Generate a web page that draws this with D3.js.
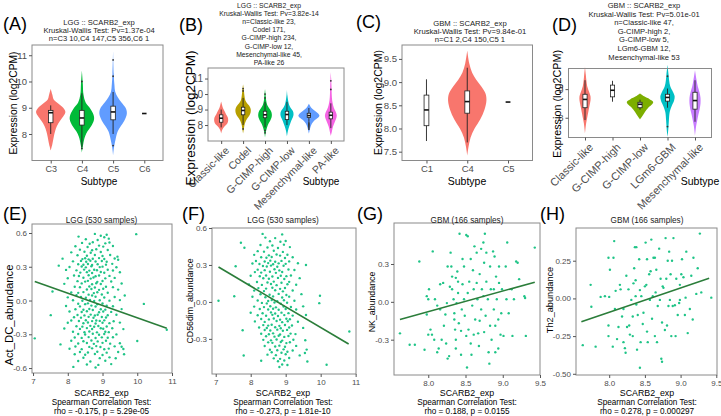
<!DOCTYPE html>
<meta charset="utf-8">
<script src="https://d3js.org/d3.v7.min.js"></script>
<style>
  body { margin: 0; background: #fff; }
  text { font-family: "Liberation Sans", Arial, sans-serif; }
</style>
<div id="chart"></div>
<script>

// ---------------- data: violin panels ----------------
// violin profiles: [value, half width as share of category step]
// boxes: [lower whisker, q1, median, q3, upper whisker]

var aTitle = ["LGG :: SCARB2_exp", "Kruskal-Wallis Test: Pv=1.37e-04", "n=C3 10,C4 147,C5 356,C6 1"];
var aCats = ["C3", "C4", "C5", "C6"];
var aTicks = [8, 9, 10, 11];
var aColors = ["#F8766D", "#00BA38", "#619CFF", null];
var aViolins = [
  [[7.37,0],[7.6,0.05],[7.9,0.1],[8.1,0.14],[8.3,0.2],[8.5,0.3],[8.7,0.42],[8.85,0.47],[9.0,0.4],[9.15,0.25],[9.3,0.1],[9.5,0.05],[9.72,0]],
  [[7.3,0],[7.6,0.04],[7.9,0.1],[8.1,0.18],[8.3,0.3],[8.5,0.38],[8.65,0.39],[8.8,0.35],[9.0,0.25],[9.2,0.12],[9.5,0.05],[9.9,0.03],[10.42,0]],
  [[7.18,0],[7.5,0.03],[7.8,0.08],[8.1,0.15],[8.3,0.25],[8.5,0.36],[8.7,0.43],[8.85,0.44],[9.0,0.4],[9.2,0.27],[9.4,0.15],[9.6,0.07],[9.9,0.04],[10.3,0.02],[11.16,0]],
  null
];
var aBoxes = [[8.0,8.43,8.81,8.9,9.09],[7.5,8.34,8.61,8.9,9.55],[8.0,8.54,8.84,9.06,9.6],[8.78,8.78,8.78,8.78,8.78]];
var aOutliers = [[], [10.0, 7.45], [10.82, 10.2, 7.56], []];

var bTitle = ["LGG :: SCARB2_exp", "Kruskal-Wallis Test: Pv=3.82e-14", "n=Classic-like 23,", "Codel 171,", "G-CIMP-high 234,", "G-CIMP-low 12,", "Mesenchymal-like 45,", "PA-like 26"];
var bCats = ["Classic-like", "Codel", "G-CIMP-high", "G-CIMP-low", "Mesenchymal-like", "PA-like"];
var bTicks = [8, 9, 10, 11];
var bColors = ["#F8766D", "#B79F00", "#00BA38", "#00BFC4", "#619CFF", "#F564E3"];
var bViolins = [
  [[7.46,0],[7.7,0.05],[7.9,0.15],[8.1,0.28],[8.3,0.32],[8.5,0.3],[8.7,0.22],[8.9,0.15],[9.1,0.08],[9.3,0.04],[9.52,0]],
  [[7.46,0],[7.8,0.04],[8.1,0.08],[8.4,0.18],[8.6,0.28],[8.8,0.34],[9.0,0.35],[9.2,0.3],[9.4,0.18],[9.6,0.1],[9.9,0.06],[10.2,0.04],[10.63,0]],
  [[7.2,0],[7.5,0.03],[7.8,0.08],[8.1,0.16],[8.3,0.24],[8.5,0.3],[8.7,0.31],[8.9,0.27],[9.1,0.18],[9.3,0.1],[9.6,0.05],[9.9,0.03],[10.32,0]],
  [[7.27,0],[7.6,0.04],[7.9,0.1],[8.1,0.15],[8.3,0.2],[8.5,0.27],[8.7,0.3],[8.9,0.27],[9.1,0.17],[9.3,0.1],[9.6,0.05],[9.9,0.02],[10.26,0]],
  [[7.45,0],[7.7,0.04],[7.9,0.08],[8.1,0.14],[8.3,0.25],[8.45,0.4],[8.6,0.48],[8.75,0.42],[8.9,0.28],[9.1,0.12],[9.25,0.05],[9.37,0]],
  [[7.3,0],[7.6,0.05],[7.9,0.1],[8.2,0.18],[8.4,0.24],[8.6,0.27],[8.8,0.24],[9.0,0.17],[9.3,0.1],[9.6,0.06],[10.0,0.04],[10.5,0.03],[11.0,0.015],[11.43,0]]
];
var bBoxes = [[7.85,8.18,8.44,8.66,9.0],[8.0,8.66,8.94,9.15,9.75],[7.85,8.47,8.66,8.89,9.5],[8.0,8.35,8.68,8.89,9.5],[8.2,8.48,8.61,8.76,9.1],[7.8,8.4,8.63,8.83,9.4]];
var bOutliers = [[], [10.2, 10.35, 7.75], [10.0, 9.75, 7.65, 7.5], [], [8.13, 8.05, 7.98, 7.9, 7.82, 7.74], [10.85, 10.3]];

var cTitle = ["GBM :: SCARB2_exp", "Kruskal-Wallis Test: Pv=9.84e-01", "n=C1 2,C4 150,C5 1"];
var cCats = ["C1", "C4", "C5"];
var cTicks = [7.5, 8.0, 8.5, 9.0, 9.5];
var cColors = [null, "#F8766D", null];
var cViolins = [
  null,
  [[7.41,0],[7.6,0.03],[7.8,0.08],[8.0,0.18],[8.2,0.32],[8.4,0.42],[8.6,0.47],[8.75,0.45],[8.9,0.35],[9.05,0.22],[9.2,0.12],[9.4,0.05],[9.68,0]],
  null
];
var cBoxes = [[7.73,8.06,8.4,8.72,9.06],[7.7,8.33,8.58,8.81,9.31],[8.57,8.57,8.57,8.57,8.57]];
var cOutliers = [[], [], []];

var dTitle = ["GBM :: SCARB2_exp", "Kruskal-Wallis Test: Pv=5.01e-01", "n=Classic-like 47,", "G-CIMP-high 2,", "G-CIMP-low 5,", "LGm6-GBM 12,", "Mesenchymal-like 53"];
var dCats = ["Classic-like", "G-CIMP-high", "G-CIMP-low", "LGm6-GBM", "Mesenchymal-like"];
var dTicks = [8, 9];
var dColors = ["#F8766D", null, "#7CAE00", "#00BFC4", "#C77CFF"];
var dViolins = [
  [[7.46,0],[7.8,0.04],[8.0,0.08],[8.2,0.12],[8.4,0.16],[8.6,0.2],[8.75,0.2],[8.9,0.15],[9.1,0.08],[9.3,0.05],[9.5,0.03],[9.78,0]],
  null,
  [[7.94,0],[8.05,0.08],[8.2,0.18],[8.35,0.3],[8.45,0.42],[8.55,0.48],[8.65,0.35],[8.75,0.15],[8.85,0]],
  [[7.34,0],[7.6,0.03],[7.9,0.05],[8.2,0.08],[8.4,0.15],[8.6,0.24],[8.75,0.26],[8.9,0.2],[9.1,0.1],[9.3,0.06],[9.5,0.04],[9.84,0]],
  [[7.37,0],[7.7,0.04],[7.9,0.08],[8.1,0.12],[8.3,0.17],[8.5,0.2],[8.7,0.2],[8.9,0.16],[9.1,0.1],[9.3,0.06],[9.66,0]]
];
var dBoxes = [[7.92,8.35,8.64,8.82,9.31],[8.56,8.73,8.96,9.14,9.29],[8.28,8.35,8.47,8.54,8.63],[8.35,8.58,8.71,8.82,9.02],[7.86,8.3,8.6,8.89,9.31]];
var dOutliers = [[], [], [], [9.45, 7.69], []];

// ---------------- data: scatter panels ----------------
var eTitle = "LGG (530 samples)";
var eStats = ["Spearman Correlation Test:", "rho = -0.175, p = 5.29e-05"];
var eFit = [[7.05, 0.17], [10.85, -0.247]];
var ePoints = [
[8.78,0.592],[9.12,0.585],[9.97,0.59],[8.31,0.568],[8.95,0.575],[9.05,0.562],[8.52,0.545],[8.86,0.538],[9.18,0.55],
[8.41,0.512],[8.63,0.505],[8.72,0.518],[9.08,0.508],[9.2,0.515],[8.22,0.482],[8.57,0.476],[8.9,0.488],[9.02,0.479],[9.3,0.485],
[8.35,0.452],[8.7,0.447],[8.82,0.455],[9.15,0.449],[8.1,0.428],[8.48,0.434],[8.66,0.425],[8.95,0.431],[9.43,0.39],
[8.28,0.402],[8.55,0.398],[8.78,0.405],[9.0,0.396],[9.22,0.404],
[7.85,0.372],[8.42,0.368],[8.5,0.375],[8.6,0.366],[8.72,0.371],[8.9,0.377],[9.05,0.369],[9.35,0.374],[9.45,0.362],
[8.15,0.348],[8.38,0.352],[8.53,0.345],[8.65,0.353],[8.8,0.347],[8.98,0.351],[9.12,0.344],
[7.74,0.31],[8.3,0.322],[8.45,0.318],[8.58,0.325],[8.7,0.316],[8.86,0.323],[9.1,0.319],[9.28,0.326],
[8.05,0.298],[8.4,0.302],[8.52,0.295],[8.68,0.304],[8.92,0.297],[9.0,0.301],[9.4,0.296],
[7.95,0.272],[8.25,0.268],[8.47,0.275],[8.62,0.266],[8.76,0.273],[8.84,0.269],[9.15,0.274],[9.3,0.267],
[8.36,0.248],[8.55,0.252],[8.7,0.245],[8.95,0.253],[9.05,0.247],[9.5,0.251],
[8.18,0.222],[8.32,0.218],[8.6,0.225],[8.8,0.216],[8.9,0.223],[9.2,0.219],
[8.0,0.198],[8.45,0.202],[8.66,0.195],[8.74,0.204],[9.08,0.197],[9.35,0.201],
[8.28,0.172],[8.5,0.168],[8.58,0.175],[8.85,0.166],[9.0,0.173],[9.25,0.169],
[7.9,0.148],[8.4,0.152],[8.7,0.145],[8.82,0.153],[8.95,0.147],[9.55,0.151],
[8.2,0.122],[8.35,0.118],[8.62,0.125],[8.78,0.116],[9.1,0.123],[9.3,0.119],
[8.55,0.098],[8.68,0.102],[8.9,0.095],[9.02,0.104],[9.45,0.097],
[7.56,0.08],[8.1,0.072],[8.3,0.068],[8.45,0.075],[8.75,0.066],[8.85,0.073],[9.15,0.069],
[8.25,0.048],[8.6,0.052],[8.7,0.045],[8.98,0.053],[9.64,0.045],
[8.0,0.028],[8.38,0.032],[8.52,0.025],[8.8,0.033],[9.05,0.027],[9.35,0.031],
[8.15,0.002],[8.42,-0.002],[8.64,0.005],[8.76,-0.004],[8.92,0.003],[9.2,-0.001],[9.5,0.004],
[8.3,-0.028],[8.5,-0.032],[8.58,-0.025],[8.85,-0.033],[9.0,-0.027],[10.19,-0.03],
[7.95,-0.048],[8.35,-0.052],[8.68,-0.045],[8.8,-0.053],[9.12,-0.047],[9.3,-0.051],
[8.22,-0.078],[8.45,-0.082],[8.62,-0.075],[8.72,-0.084],[8.95,-0.077],[9.08,-0.081],[9.55,-0.076],
[8.05,-0.098],[8.4,-0.102],[8.55,-0.095],[8.9,-0.104],[9.02,-0.097],[9.25,-0.101],
[7.51,-0.13],[8.28,-0.128],[8.48,-0.132],[8.66,-0.125],[8.78,-0.133],[8.86,-0.127],[9.15,-0.131],[9.4,-0.126],
[8.18,-0.148],[8.38,-0.152],[8.6,-0.145],[8.74,-0.153],[8.98,-0.147],[9.1,-0.151],
[8.1,-0.178],[8.32,-0.182],[8.52,-0.175],[8.7,-0.183],[8.82,-0.177],[8.92,-0.181],[9.05,-0.176],[9.32,-0.184],
[8.0,-0.198],[8.45,-0.202],[8.58,-0.195],[8.8,-0.204],[9.0,-0.197],[9.2,-0.201],[9.5,-0.196],
[8.25,-0.228],[8.42,-0.232],[8.65,-0.225],[8.76,-0.233],[8.88,-0.227],[9.12,-0.231],
[7.9,-0.248],[8.35,-0.252],[8.55,-0.245],[8.7,-0.253],[8.95,-0.247],[9.02,-0.251],[9.28,-0.246],[9.6,-0.254],
[8.15,-0.278],[8.48,-0.282],[8.62,-0.275],[8.84,-0.283],[9.08,-0.277],[9.18,-0.281],
[8.3,-0.298],[8.5,-0.302],[8.72,-0.295],[8.9,-0.304],[9.05,-0.297],[9.4,-0.301],
[7.05,-0.336],[8.2,-0.328],[8.4,-0.332],[8.6,-0.325],[8.8,-0.333],[8.98,-0.327],[9.15,-0.331],[9.3,-0.326],
[8.1,-0.358],[8.45,-0.362],[8.68,-0.355],[8.86,-0.363],[9.1,-0.357],[10.0,-0.36],
[7.79,-0.39],[8.3,-0.382],[8.55,-0.378],[8.75,-0.385],[9.0,-0.376],[9.22,-0.383],[9.5,-0.379],
[8.22,-0.408],[8.62,-0.412],[8.82,-0.405],[8.94,-0.413],[9.35,-0.407],[9.55,-0.411],
[8.05,-0.428],[8.4,-0.432],[8.7,-0.425],[9.05,-0.433],[9.18,-0.427],[9.6,-0.431],
[8.35,-0.458],[8.58,-0.462],[8.85,-0.455],[9.12,-0.463],[9.45,-0.457],
[8.2,-0.478],[8.5,-0.482],[8.78,-0.475],[9.0,-0.484],[9.62,-0.477],
[8.45,-0.508],[8.92,-0.512],[9.2,-0.505],[9.38,-0.513],[8.3,-0.538],[8.65,-0.542],[9.08,-0.535],
[8.55,-0.568],[8.88,-0.572],[9.25,-0.565],[8.16,-0.59],[8.8,-0.595],[10.85,-0.26]
];

var fTitle = "LGG (530 samples)";
var fStats = ["Spearman Correlation Test:", "rho = -0.273, p = 1.81e-10"];
var fFit = [[7.08, 0.283], [10.8, -0.342]];
var fPoints = [
[8.34,0.552],[8.9,0.548],[8.42,0.522],[8.7,0.518],[8.55,0.492],[8.85,0.488],[9.0,0.495],
[8.28,0.462],[8.62,0.458],[8.95,0.465],[7.72,0.48],[8.48,0.442],[8.78,0.438],[9.12,0.445],[7.82,0.44],
[8.2,0.412],[8.38,0.408],[8.66,0.415],[8.92,0.406],[8.1,0.382],[8.52,0.378],[8.74,0.385],[8.84,0.376],[9.05,0.383],
[8.3,0.362],[8.45,0.358],[8.6,0.365],[8.98,0.356],[9.2,0.363],
[8.15,0.332],[8.4,0.328],[8.56,0.335],[8.7,0.326],[8.88,0.333],[9.1,0.329],
[8.05,0.312],[8.25,0.308],[8.5,0.315],[8.64,0.306],[8.8,0.313],[9.0,0.309],[9.35,0.314],
[7.57,0.29],[8.35,0.292],[8.46,0.288],[8.58,0.295],[8.76,0.286],[8.94,0.293],[9.58,0.3],
[8.2,0.262],[8.4,0.258],[8.68,0.265],[8.82,0.256],[9.08,0.263],[9.25,0.259],
[8.12,0.242],[8.3,0.238],[8.55,0.245],[8.72,0.236],[8.9,0.243],
[8.0,0.212],[8.26,0.208],[8.44,0.215],[8.62,0.206],[8.86,0.213],[9.02,0.209],[9.15,0.214],
[8.36,0.192],[8.52,0.188],[8.78,0.195],[8.96,0.186],[9.4,0.193],
[8.18,0.162],[8.48,0.158],[8.66,0.165],[8.88,0.156],[9.1,0.163],
[7.95,0.142],[8.32,0.138],[8.58,0.145],[8.74,0.136],[9.05,0.143],[9.3,0.139],
[8.22,0.112],[8.44,0.108],[8.62,0.115],[8.84,0.106],[8.98,0.113],
[8.1,0.092],[8.38,0.088],[8.7,0.095],[8.92,0.086],[9.2,0.093],
[8.28,0.062],[8.54,0.058],[8.8,0.065],[9.02,0.056],[9.45,0.063],
[7.53,0.046],[8.05,0.042],[8.42,0.038],[8.64,0.045],[8.9,0.036],[9.1,0.043],[9.98,0.05],
[7.08,0.01],[8.2,0.012],[8.5,0.008],[8.6,0.015],[8.76,0.006],[8.95,0.013],[9.25,0.009],
[8.32,-0.008],[8.46,-0.012],[8.68,-0.005],[8.86,-0.014],[9.04,-0.007],[9.96,-0.01],
[8.1,-0.038],[8.38,-0.042],[8.56,-0.035],[8.72,-0.044],[8.94,-0.037],[9.15,-0.041],[9.5,-0.036],
[8.26,-0.058],[8.5,-0.062],[8.64,-0.055],[8.8,-0.064],[9.0,-0.057],[9.3,-0.061],
[8.0,-0.088],[8.34,-0.092],[8.58,-0.085],[8.7,-0.094],[8.88,-0.087],[9.08,-0.091],
[8.2,-0.108],[8.44,-0.112],[8.62,-0.105],[8.78,-0.114],[8.96,-0.107],[9.2,-0.111],[9.58,-0.106],
[8.3,-0.138],[8.52,-0.142],[8.66,-0.135],[8.84,-0.144],[9.02,-0.137],[9.12,-0.141],
[8.12,-0.158],[8.4,-0.162],[8.74,-0.155],[8.9,-0.164],[9.06,-0.157],[9.35,-0.161],
[8.36,-0.188],[8.5,-0.192],[8.6,-0.185],[8.82,-0.194],[8.98,-0.187],[9.18,-0.191],
[8.24,-0.208],[8.46,-0.212],[8.7,-0.205],[8.86,-0.214],[9.1,-0.207],[9.5,-0.211],
[7.77,-0.23],[8.4,-0.228],[8.56,-0.232],[8.76,-0.225],[8.92,-0.234],[9.04,-0.227],
[8.3,-0.258],[8.52,-0.262],[8.64,-0.255],[8.84,-0.264],[9.14,-0.257],[9.28,-0.261],
[8.44,-0.278],[8.68,-0.282],[8.8,-0.275],[8.96,-0.284],[9.08,-0.277],
[8.36,-0.308],[8.58,-0.312],[8.74,-0.305],[8.9,-0.314],[9.22,-0.307],[9.56,-0.311],
[8.5,-0.328],[8.62,-0.332],[8.86,-0.325],[9.02,-0.334],[9.12,-0.327],
[8.4,-0.358],[8.7,-0.362],[8.82,-0.355],[8.98,-0.364],[9.3,-0.357],
[8.55,-0.388],[8.76,-0.392],[8.94,-0.385],[9.2,-0.394],[9.6,-0.387],
[8.6,-0.408],[8.88,-0.412],[9.05,-0.405],[9.55,-0.414],
[7.8,-0.435],[8.48,-0.428],[8.72,-0.432],[9.0,-0.425],[9.4,-0.434],
[8.66,-0.458],[8.84,-0.462],[9.1,-0.455],[8.3,-0.478],[8.78,-0.482],[8.96,-0.475],[9.62,-0.484],
[8.9,-0.508],[9.05,-0.512],[10.17,-0.51],[8.82,-0.528],[10.82,-0.24]
];

var gTitle = "GBM (166 samples)";
var gStats = ["Spearman Correlation Test:", "rho = 0.188, p = 0.0155"];
var gFit = [[7.62, -0.14], [9.43, 0.156]];
var gPoints = [
[7.62,-0.25],[7.75,-0.34],[7.82,-0.34],[7.88,0.32],[8.06,0.4],[7.98,0.045],[8.0,0.02],[8.01,0.1],[7.98,-0.1],
[8.0,-0.26],[7.95,-0.38],[8.03,-0.22],[8.05,-0.26],[8.08,-0.3],[8.09,0.02],[8.12,-0.03],[8.12,-0.4],[8.14,-0.37],
[8.18,-0.3],[8.2,0.15],[8.23,-0.1],[8.24,-0.33],[8.26,-0.45],[8.28,-0.43],[8.29,0.12],[8.3,0.39],[8.31,0.28],
[8.32,0.2],[8.32,0.1],[8.34,0.02],[8.35,-0.09],[8.35,-0.14],[8.36,-0.22],[8.37,-0.3],[8.37,-0.37],[8.39,0.24],
[8.4,0.16],[8.4,0.07],[8.41,-0.17],[8.42,0.54],[8.44,-0.42],[8.45,-0.06],[8.46,0.14],[8.48,0.28],[8.48,0.02],
[8.49,-0.11],[8.51,0.53],[8.53,0.52],[8.52,-0.52],[8.53,0.07],[8.54,-0.22],[8.55,0.16],[8.57,0.34],[8.57,-0.33],
[8.58,-0.42],[8.59,-0.03],[8.6,0.25],[8.61,0.1],[8.62,0.44],[8.63,-0.14],[8.65,0.39],[8.66,0.02],[8.67,-0.25],
[8.68,-0.35],[8.69,0.22],[8.71,-0.06],[8.71,0.42],[8.72,0.1],[8.74,0.47],[8.75,0.31],[8.75,-0.24],[8.76,0.54],
[8.77,-0.11],[8.78,0.39],[8.78,0.16],[8.8,0.02],[8.81,-0.4],[8.82,-0.49],[8.83,0.28],[8.83,-0.19],[8.84,0.1],
[8.85,-0.3],[8.87,0.4],[8.88,-0.06],[8.89,0.36],[8.9,-0.19],[8.9,-0.4],[8.91,0.2],[8.92,0.02],[8.94,-0.37],
[8.95,0.15],[8.95,0.28],[8.97,-0.26],[8.98,-0.09],[8.99,0.1],[9.01,-0.27],[9.04,0.28],[9.06,0.47],[9.05,0.02],
[9.08,-0.09],[9.13,-0.27],[9.15,0.02],[9.18,0.32],[9.2,0.31],[9.22,0.18],[9.29,0.045],[9.3,0.03],[9.31,-0.27],
[9.43,0.43],[9.12,0.1],[8.16,-0.06],[8.21,-0.19],[8.25,-0.01],[8.38,-0.01],[8.44,-0.23],[8.65,0.15],[8.46,0.34],
[8.26,0.28],[8.16,0.14],[8.69,-0.15],[8.74,0.045],[8.88,0.1],[8.94,-0.14],[8.51,-0.27],[8.37,0.19],[8.61,-0.26]
];

var hTitle = "GBM (166 samples)";
var hStats = ["Spearman Correlation Test:", "rho = 0.278, p = 0.000297"];
var hFit = [[7.61, -0.155], [9.4, 0.133]];
var hPoints = [
[7.63,-0.31],[7.74,0.09],[7.75,-0.055],[7.81,-0.32],[7.88,0.01],[7.94,0.015],[7.99,0.27],[7.99,-0.18],[7.99,-0.25],
[8.01,0.19],[8.0,0.01],[8.05,-0.32],[8.06,0.27],[8.07,0.38],[8.08,-0.07],[8.09,0.05],[8.11,-0.27],[8.13,-0.19],
[8.15,0.09],[8.16,0.06],[8.18,-0.12],[8.2,-0.07],[8.2,-0.29],[8.22,-0.33],[8.23,-0.36],[8.24,0.15],[8.25,-0.19],
[8.27,0.06],[8.28,-0.18],[8.29,-0.24],[8.31,-0.01],[8.33,-0.12],[8.33,-0.25],[8.34,0.1],[8.35,0.2],[8.36,0.34],
[8.37,0.12],[8.37,0.015],[8.38,0.34],[8.38,-0.04],[8.39,-0.34],[8.4,-0.11],[8.42,0.26],[8.43,-0.46],[8.43,0.055],
[8.44,-0.29],[8.45,0.015],[8.47,-0.17],[8.48,-0.095],[8.5,0.08],[8.51,0.37],[8.52,0.09],[8.53,0.26],[8.53,-0.22],
[8.54,-0.29],[8.56,0.16],[8.57,-0.01],[8.58,0.18],[8.59,0.39],[8.6,-0.135],[8.61,0.015],[8.62,0.27],[8.64,0.27],
[8.64,-0.25],[8.65,0.04],[8.66,0.19],[8.67,-0.29],[8.68,-0.05],[8.7,0.33],[8.71,-0.01],[8.72,0.13],[8.73,-0.4],
[8.74,-0.16],[8.74,-0.42],[8.75,0.08],[8.76,0.07],[8.78,-0.21],[8.79,0.4],[8.8,0.13],[8.81,-0.18],[8.82,0.25],
[8.83,-0.05],[8.84,0.31],[8.85,-0.01],[8.86,0.16],[8.87,-0.25],[8.88,0.25],[8.89,-0.05],[8.9,0.4],[8.92,-0.045],
[8.93,-0.25],[8.94,0.13],[8.96,-0.11],[8.98,-0.03],[8.99,-0.01],[9.01,0.16],[9.02,0.26],[9.04,0.14],[9.06,-0.11],
[9.08,0.31],[9.1,-0.23],[9.13,-0.07],[9.15,0.15],[9.17,-0.14],[9.18,0.27],[9.22,0.03],[9.24,0.2],[9.27,0.43],
[9.29,0.04],[9.43,0.005],[9.07,0.005],[8.99,0.09]
];

// ---------------- drawing ----------------
var width = 721, height = 416;
var pointColor = "#1fc487", fitColor = "#2b7d3a", borderColor = "#8a8a8a", tickColor = "#4d4d4d";

var svg = d3.select("#chart").append("svg")
    .attr("width", width)
    .attr("height", height);

function fmt(spec) {
  var f = d3.format(spec);
  return function(d) { return f(d).replace("\u2212", "-"); };
}

function styleAxis(g, size) {
  g.select(".domain").remove();
  g.selectAll(".tick line").attr("stroke", "#555");
  g.selectAll(".tick text").attr("fill", tickColor).style("font-size", size + "px")
    .style("font-family", "Liberation Sans, Arial, sans-serif");
}

function label(txt, x, y, size, anchor, rotate) {
  var t = svg.append("text").text(txt).style("font-size", size + "px")
    .attr("text-anchor", anchor || "middle").attr("fill", "#000");
  if (rotate) t.attr("transform", "translate(" + x + "," + y + ") rotate(-90)");
  else t.attr("x", x).attr("y", y);
  return t;
}

function violinPanel(p) {
  var x = d3.scalePoint().domain(p.cats).range([p.x0, p.x1]).padding(0.6);
  var y = d3.scaleLinear().domain(p.yDom).range([p.y1, p.y0]);
  var step = x.step();
  var g = svg.append("g");

  p.violins.forEach(function(v, i) {
    if (!v) return;
    var cx = x(p.cats[i]);
    var area = d3.area().curve(d3.curveCatmullRom)
      .y(function(d) { return y(d[0]); })
      .x0(function(d) { return cx - d[1] * step; })
      .x1(function(d) { return cx + d[1] * step; });
    g.append("path").datum(v).attr("d", area).attr("fill", p.colors[i]);
  });

  p.boxes.forEach(function(b, i) {
    var cx = x(p.cats[i]), bw = p.boxW;
    g.append("line").attr("x1", cx).attr("x2", cx).attr("y1", y(b[0])).attr("y2", y(b[4]))
      .attr("stroke", "#222").attr("stroke-width", 0.9);
    g.append("rect").attr("x", cx - bw / 2).attr("width", bw)
      .attr("y", y(b[3])).attr("height", Math.max(0, y(b[1]) - y(b[3])))
      .attr("fill", "#fff").attr("stroke", "#222").attr("stroke-width", 0.8);
    g.append("line").attr("x1", cx - bw / 2).attr("x2", cx + bw / 2).attr("y1", y(b[2])).attr("y2", y(b[2]))
      .attr("stroke", "#111").attr("stroke-width", 1.6);
    p.outliers[i].forEach(function(o) {
      g.append("circle").attr("cx", cx).attr("cy", y(o)).attr("r", 0.9).attr("fill", "#333");
    });
  });

  g.append("rect").attr("x", p.x0).attr("y", p.y0).attr("width", p.x1 - p.x0).attr("height", p.y1 - p.y0)
    .attr("fill", "none").attr("stroke", borderColor).attr("stroke-width", 1);

  var ya = g.append("g").attr("transform", "translate(" + p.x0 + ",0)")
    .call(d3.axisLeft(y).tickValues(p.ticks).tickSize(3).tickPadding(2).tickFormat(fmt(p.tickFmt)));
  styleAxis(ya, p.tickSize);

  var xa = g.append("g").attr("transform", "translate(0," + p.y1 + ")")
    .call(d3.axisBottom(x).tickSize(3).tickPadding(2));
  styleAxis(xa, p.xTickSize);
  if (p.rotate) {
    xa.selectAll(".tick text").attr("text-anchor", "end").attr("dy", "0.7em")
      .attr("transform", "translate(3,5) rotate(-45)").attr("y", 0).attr("x", 0);
  }

  p.title.forEach(function(t, i) {
    label(t, p.titleX, p.titleY + i * p.titleGap, p.titleSize).attr("fill", "#222");
  });
}

function scatterPanel(p) {
  var x = d3.scaleLinear().domain(p.xDom).range([p.x0, p.x1]);
  var y = d3.scaleLinear().domain(p.yDom).range([p.y1, p.y0]);
  var g = svg.append("g");

  g.selectAll("circle").data(p.points).enter().append("circle")
    .attr("cx", function(d) { return x(d[0]); })
    .attr("cy", function(d) { return y(d[1]); })
    .attr("r", 1.2).attr("fill", pointColor);

  g.append("path").datum(p.fit)
    .attr("d", d3.line().x(function(d) { return x(d[0]); }).y(function(d) { return y(d[1]); }))
    .attr("stroke", fitColor).attr("stroke-width", 1.6).attr("fill", "none");

  g.append("rect").attr("x", p.x0).attr("y", p.y0).attr("width", p.x1 - p.x0).attr("height", p.y1 - p.y0)
    .attr("fill", "none").attr("stroke", borderColor).attr("stroke-width", 1);

  var ya = g.append("g").attr("transform", "translate(" + p.x0 + ",0)")
    .call(d3.axisLeft(y).tickValues(p.yTicks).tickSize(3).tickPadding(2).tickFormat(fmt(p.yFmt)));
  styleAxis(ya, 8);
  var xa = g.append("g").attr("transform", "translate(0," + p.y1 + ")")
    .call(d3.axisBottom(x).tickValues(p.xTicks).tickSize(3).tickPadding(2).tickFormat(fmt(p.xFmt)));
  styleAxis(xa, 8);

  label(p.title, p.cx, 223, 8.2).attr("fill", "#222");
  label("SCARB2_exp", p.cx, 396, 8.8);
  label(p.stats[0], p.cx, 404.5, 8.2);
  label(p.stats[1], p.cx, 413.5, 8.2);
}

// ---- top row ----
violinPanel({ cats: aCats, violins: aViolins, boxes: aBoxes, outliers: aOutliers, colors: aColors,
  ticks: aTicks, tickFmt: "d", x0: 32, x1: 163, y0: 45, y1: 160.5, yDom: [6.99, 11.39], boxW: 4.5,
  tickSize: 9.5, xTickSize: 9, title: aTitle, titleX: 99, titleY: 24.5, titleGap: 8, titleSize: 7.6 });
violinPanel({ cats: bCats, violins: bViolins, boxes: bBoxes, outliers: bOutliers, colors: bColors,
  ticks: bTicks, tickFmt: "d", x0: 208, x1: 344, y0: 68, y1: 141, yDom: [6.97, 11.68], boxW: 3.4,
  tickSize: 10, xTickSize: 10.5, rotate: true, title: bTitle, titleX: 269, titleY: 8, titleGap: 8.1, titleSize: 6.8 });
violinPanel({ cats: cCats, violins: cViolins, boxes: cBoxes, outliers: cOutliers, colors: cColors,
  ticks: cTicks, tickFmt: ".1f", x0: 402, x1: 532.5, y0: 45, y1: 160.5, yDom: [7.31, 9.8], boxW: 4.8,
  tickSize: 9.6, xTickSize: 9.5, title: cTitle, titleX: 470, titleY: 26, titleGap: 8, titleSize: 7.7 });
violinPanel({ cats: dCats, violins: dViolins, boxes: dBoxes, outliers: dOutliers, colors: dColors,
  ticks: dTicks, tickFmt: "d", x0: 568.5, x1: 711.5, y0: 68.5, y1: 137.5, yDom: [7.31, 9.72], boxW: 4.2,
  tickSize: 9.5, xTickSize: 11, rotate: true, title: dTitle, titleX: 644, titleY: 8, titleGap: 8.6, titleSize: 7.6 });

label("Expression (log2CPM)", 16.5, 103, 10.3, "middle", true);
label("Expression (log2CPM)", 195, 118, 13.5, "middle", true);
label("Expression (log2CPM)", 382, 102.5, 10.5, "middle", true);
label("Expression (log2CPM)", 561, 104, 10.8, "middle", true);
label("Subtype", 99, 184.5, 10);
label("Subtype", 321, 184.5, 10);
label("Subtype", 467, 184.5, 10.5);
label("Subtype", 700, 184.5, 10.5);

// ---- bottom row ----
scatterPanel({ points: ePoints, fit: eFit, title: eTitle, stats: eStats, x0: 32, x1: 172, y0: 224, y1: 373,
  xDom: [6.97, 11.0], yDom: [-0.644, 0.68], xTicks: [7, 8, 9, 10, 11], yTicks: [-0.6, -0.3, 0, 0.3, 0.6],
  xFmt: "d", yFmt: ".1f", cx: 101.5 });
scatterPanel({ points: fPoints, fit: fFit, title: fTitle, stats: fStats, x0: 212, x1: 356, y0: 228, y1: 374,
  xDom: [6.894, 11.01], yDom: [-0.585, 0.6], xTicks: [7, 8, 9, 10, 11], yTicks: [-0.3, 0, 0.3, 0.6],
  xFmt: "d", yFmt: ".1f", cx: 283 });
scatterPanel({ points: gPoints, fit: gFit, title: gTitle, stats: gStats, x0: 394, x1: 540, y0: 223, y1: 375,
  xDom: [7.54, 9.5], yDom: [-0.58, 0.625], xTicks: [8.0, 8.5, 9.0, 9.5], yTicks: [-0.3, 0, 0.3],
  xFmt: ".1f", yFmt: ".1f", cx: 467 });
scatterPanel({ points: hPoints, fit: hFit, title: hTitle, stats: hStats, x0: 576, x1: 717, y0: 228, y1: 375,
  xDom: [7.535, 9.51], yDom: [-0.508, 0.467], xTicks: [8.0, 8.5, 9.0, 9.5], yTicks: [-0.5, -0.25, 0, 0.25],
  xFmt: ".1f", yFmt: ".2f", cx: 647 });

label("Act_DC_abundance", 13, 315, 11.3, "middle", true);
label("CD56dim_abundance", 193, 301, 8.8, "middle", true);
label("NK_abundance", 375, 302, 8.8, "middle", true);
label("Th2_abundance", 553, 300, 9.2, "middle", true);

// ---- panel letters ----
var letters = [["(A)", 3, 30], ["(B)", 179, 31], ["(C)", 356, 28], ["(D)", 552, 31],
               ["(E)", 3, 220], ["(F)", 182, 220], ["(G)", 357, 220], ["(H)", 540, 220]];
letters.forEach(function(l) { label(l[0], l[1], l[2], 18, "start"); });

</script>
